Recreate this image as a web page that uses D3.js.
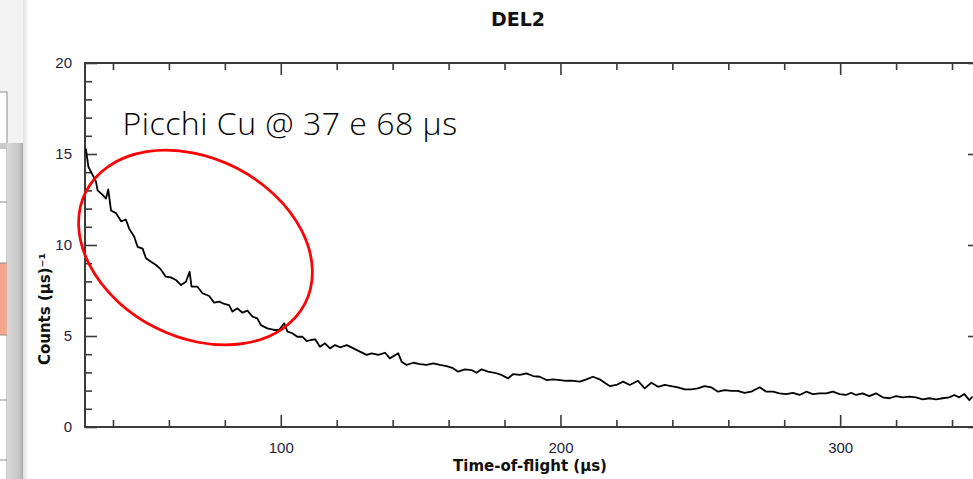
<!DOCTYPE html>
<html>
<head>
<meta charset="utf-8">
<script src="https://cdn.jsdelivr.net/npm/d3@7"></script>
<style>
  html, body { margin: 0; padding: 0; background: #fff; }
  svg { display: block; }
  .tick text { font-family: "Liberation Sans", Arial, sans-serif; font-size: 15px; fill: #1d1d42; }
  .bold-label { font-family: "DejaVu Sans", Verdana, sans-serif; font-weight: bold; fill: #111; }
</style>
</head>
<body>
<div class="chart"></div>
<script>
// data (time in µs, counts per µs)
var tof = [30.3, 31.2, 32.7, 33.9, 34.5, 36.3, 37.5, 38.3, 39.3, 41.1, 42.9, 44.6, 45.8, 47.6, 48.8,
  50.6, 51.8, 53.6, 55.4, 57.1, 58.9, 60.7, 62.5, 64.3, 66.1, 67.4, 68.1, 70.2, 72.0, 74.4, 76.2,
  78.0, 79.8, 81.5, 82.7, 84.5, 86.3, 88.1, 89.9, 91.6, 92.9, 95.2, 97.6, 99.4, 101.2, 102.4, 104.1,
  105.9, 107.7, 109.3, 110.7, 112.3, 114.0, 115.8, 117.6, 119.4, 121.2, 123.6, 126.0, 128.3, 130.7,
  132.5, 134.9, 137.3, 139.0, 142.0, 143.2, 145.0, 147.4, 149.8, 152.1, 154.5, 156.9, 159.3, 161.6,
  163.4, 165.8, 168.2, 170.0, 171.8, 174.1, 176.5, 178.9, 181.3, 183.1, 185.5, 187.8, 190.2, 192.6,
  195.0, 197.4, 199.8, 202.1, 204.5, 206.9, 209.3, 211.6, 214.0, 215.8, 217.6, 220.0, 222.4, 224.8,
  227.7, 230.1, 232.5, 234.9, 237.3, 239.6, 242.0, 244.4, 246.8, 249.1, 251.5, 253.9, 256.3, 258.7,
  261.1, 263.4, 265.8, 268.2, 271.2, 273.6, 276.0, 278.3, 280.7, 283.1, 285.5, 287.9, 290.2, 292.6,
  295.0, 297.4, 299.8, 302.1, 303.9, 305.7, 308.0, 310.4, 312.8, 315.2, 317.6, 320.0, 322.4, 324.8,
  327.1, 329.5, 331.9, 334.3, 336.6, 339.0, 340.8, 342.6, 344.4, 346.2, 347.3];
var counts = [15.3, 14.3, 13.85, 13.5, 13.0, 12.75, 12.55, 13.05, 11.9, 11.75, 11.3, 11.4, 10.9, 10.45, 9.9,
  9.8, 9.27, 9.08, 8.9, 8.66, 8.26, 8.22, 8.08, 7.8, 7.98, 8.53, 7.71, 7.71, 7.35, 7.2, 6.83,
  6.89, 6.76, 6.7, 6.34, 6.52, 6.28, 6.39, 6.06, 5.97, 5.6, 5.42, 5.33, 5.33, 5.7, 5.24, 5.15,
  4.96, 4.96, 4.72, 4.78, 4.82, 4.41, 4.6, 4.32, 4.5, 4.38, 4.5, 4.32, 4.14, 3.96,
  4.05, 3.96, 4.08, 3.77, 4.05, 3.59, 3.41, 3.53, 3.46, 3.41, 3.5, 3.41, 3.35, 3.23,
  3.04, 3.17, 3.13, 2.98, 3.17, 3.04, 2.98, 2.86, 2.67, 2.91, 2.86, 2.95, 2.8, 2.76,
  2.58, 2.62, 2.58, 2.54, 2.54, 2.49, 2.62, 2.76, 2.62, 2.43, 2.25, 2.31, 2.49, 2.31,
  2.54, 2.12, 2.43, 2.21, 2.31, 2.25, 2.18, 2.07, 2.07, 2.12, 2.25, 2.18, 1.94, 2.03,
  1.99, 1.99, 1.88, 1.94, 2.18, 1.94, 1.94, 1.85, 1.81, 1.88, 1.76, 1.94, 1.81, 1.85,
  1.85, 1.94, 1.81, 1.76, 1.88, 1.76, 1.85, 1.7, 1.85, 1.63, 1.58, 1.7, 1.63, 1.67,
  1.63, 1.52, 1.58, 1.52, 1.58, 1.63, 1.76, 1.63, 1.81, 1.48, 1.67];

var xMajor = [100, 200, 300];
var xMinor = [40, 60, 80, 120, 140, 160, 180, 220, 240, 260, 280, 320, 340];
var yMajor = [0, 5, 10, 15, 20];
var yMinor = [1, 2, 3, 4, 6, 7, 8, 9, 11, 12, 13, 14, 16, 17, 18, 19];

var title = 'DEL2';
var xTitle = 'Time-of-flight (µs)';
var yTitle = 'Counts (µs)⁻¹';
var note = 'Picchi Cu @ 37 e 68 µs';

var width = 973;
var height = 479;
var plotLeft = 85, plotRight = 980, plotTop = 63, plotBottom = 427;
var MAJOR_TICK = 12;
var MINOR_TICK = 7;
var AXIS_COLOR = '#3a3a3a';

var svg = d3.select('.chart').append('svg')
  .attr('width', width)
  .attr('height', height);

// bits of the slide editor visible on the left
var defs = svg.append('defs');
var barGrad = defs.append('linearGradient').attr('id', 'bar-grad');
barGrad.append('stop').attr('offset', '0%').attr('stop-color', '#dadada');
barGrad.append('stop').attr('offset', '80%').attr('stop-color', '#c4c4c4');
barGrad.append('stop').attr('offset', '100%').attr('stop-color', '#a9a9a9');
var shadowGrad = defs.append('linearGradient').attr('id', 'shadow-grad');
shadowGrad.append('stop').attr('offset', '0%').attr('stop-color', '#000').attr('stop-opacity', 0.12);
shadowGrad.append('stop').attr('offset', '100%').attr('stop-color', '#000').attr('stop-opacity', 0);

svg.append('rect').attr('x', 0).attr('y', 0).attr('width', 23).attr('height', height).attr('fill', '#f3f3f3');
svg.append('rect').attr('x', -1).attr('y', 92).attr('width', 8).attr('height', 400)
  .attr('fill', '#fff').attr('stroke', '#8c8c8c').attr('stroke-width', 1);
svg.append('rect').attr('x', 0).attr('y', 263).attr('width', 7).attr('height', 72).attr('fill', '#f2a88d');
[202, 263, 335, 400, 460].forEach(function (yy) {
  svg.append('line').attr('x1', 0).attr('x2', 7).attr('y1', yy).attr('y2', yy)
    .attr('stroke', '#8c8c8c').attr('stroke-width', 1);
});
svg.append('rect').attr('x', 0).attr('y', 143).attr('width', 23).attr('height', 6).attr('fill', '#c9c9c9');
svg.append('rect').attr('x', 7).attr('y', 143).attr('width', 16).attr('height', height - 143).attr('fill', 'url(#bar-grad)');
svg.append('rect').attr('x', 23).attr('y', 0).attr('width', 6).attr('height', height).attr('fill', 'url(#shadow-grad)');

// scales
var x = d3.scaleLinear().domain([30, 350]).range([plotLeft, plotRight]);
var y = d3.scaleLinear().domain([0, 20]).range([plotBottom, plotTop]);

var data = tof.map(function (t, i) { return { t: t, c: counts[i] }; });

svg.append('clipPath').attr('id', 'plot-clip')
  .append('rect').attr('x', plotLeft).attr('y', plotTop)
  .attr('width', plotRight - plotLeft).attr('height', plotBottom - plotTop);

// axes, ticks point inward on all four sides
function drawAxis(axis, tx, ty, values, size, labels) {
  var g = svg.append('g')
    .attr('transform', 'translate(' + tx + ',' + ty + ')')
    .call(axis.tickValues(values).tickSize(-size).tickPadding(labels ? 15 : 0)
      .tickFormat(labels ? d3.format('d') : ''));
  g.select('.domain').remove();
  g.selectAll('.tick line').attr('stroke', AXIS_COLOR).attr('stroke-width', 1.6);
  return g;
}

drawAxis(d3.axisBottom(x), 0, plotBottom, xMajor, MAJOR_TICK, true);
drawAxis(d3.axisBottom(x), 0, plotBottom, xMinor, MINOR_TICK, false);
drawAxis(d3.axisTop(x), 0, plotTop, xMajor, MAJOR_TICK, false);
drawAxis(d3.axisTop(x), 0, plotTop, xMinor, MINOR_TICK, false);
var yAxisG = drawAxis(d3.axisLeft(y), plotLeft, 0, yMajor, MAJOR_TICK, true);
yAxisG.selectAll('.tick text').attr('x', -13);
drawAxis(d3.axisLeft(y), plotLeft, 0, yMinor, MINOR_TICK, false);
drawAxis(d3.axisRight(y), plotRight, 0, yMajor, MAJOR_TICK, false);
drawAxis(d3.axisRight(y), plotRight, 0, yMinor, MINOR_TICK, false);

svg.append('rect')
  .attr('x', plotLeft).attr('y', plotTop)
  .attr('width', plotRight - plotLeft).attr('height', plotBottom - plotTop)
  .attr('fill', 'none').attr('stroke', AXIS_COLOR).attr('stroke-width', 2);

// the spectrum
var line = d3.line()
  .x(function (d) { return x(d.t); })
  .y(function (d) { return y(d.c); });

svg.append('path')
  .datum(data)
  .attr('clip-path', 'url(#plot-clip)')
  .attr('d', line)
  .attr('fill', 'none')
  .attr('stroke', '#000')
  .attr('stroke-width', 1.8)
  .attr('stroke-linejoin', 'round');

// titles
svg.append('text').attr('class', 'bold-label')
  .attr('x', 518).attr('y', 26)
  .attr('text-anchor', 'middle').style('font-size', '19px')
  .text(title);

svg.append('text').attr('class', 'bold-label')
  .attr('x', 530).attr('y', 471)
  .attr('text-anchor', 'middle').style('font-size', '15px')
  .text(xTitle);

svg.append('text').attr('class', 'bold-label')
  .attr('transform', 'translate(50,309) rotate(-90)')
  .attr('text-anchor', 'middle').style('font-size', '15px')
  .text(yTitle);

// annotation
svg.append('text')
  .attr('x', x(43.4)).attr('y', y(16.04))
  .style('font-family', '"Open Sans", sans-serif')
  .style('font-weight', 300)
  .style('font-size', '32px')
  .style('letter-spacing', '0.5px')
  .attr('fill', '#000')
  .text(note);

svg.append('ellipse')
  .attr('transform', 'translate(' + x(69.5) + ',' + y(9.86) + ') rotate(27)')
  .attr('rx', 123).attr('ry', 89.5)
  .attr('fill', 'none')
  .attr('stroke', '#ff0000')
  .attr('stroke-width', 2.75);
</script>
</body>
</html>
